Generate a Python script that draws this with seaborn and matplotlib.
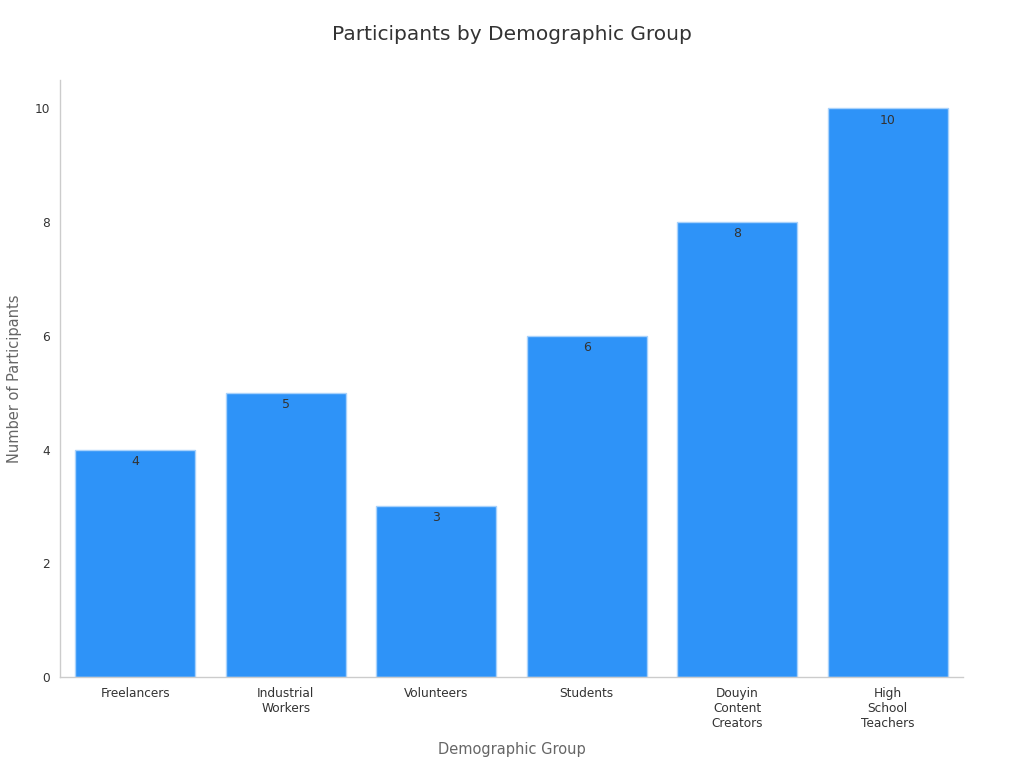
import pandas as pd
import matplotlib
matplotlib.use("Agg")
import matplotlib.pyplot as plt
import seaborn as sns

# data
groups = ["Freelancers", "Industrial\nWorkers", "Volunteers", "Students",
          "Douyin\nContent\nCreators", "High\nSchool\nTeachers"]
participants = [4, 5, 3, 6, 8, 10]

df = pd.DataFrame({"Group": groups, "Participants": participants})

sns.set_style("white")
plt.rcParams["font.family"] = ["DejaVu Sans"]

fig = plt.figure(figsize=(10.24, 7.68), dpi=100)
ax = fig.add_axes([0.0586, 0.1185, 0.8818, 0.7773])

sns.barplot(data=df, x="Group", y="Participants", color="#2E93F8",
            saturation=1, width=0.8, edgecolor="#A9D2FB", linewidth=1, ax=ax)

for c in ax.containers:
    ax.bar_label(c, padding=-13, fontsize=9, color="#333333")

ax.set_xlim(-0.5, 5.5)
ax.set_ylim(0, 10.5)
ax.set_yticks([0, 2, 4, 6, 8, 10])

for s in ["top", "right"]:
    ax.spines[s].set_visible(False)
for s in ["left", "bottom"]:
    ax.spines[s].set_color("#cccccc")
    ax.spines[s].set_linewidth(1)

ax.tick_params(axis="both", length=4, width=1, color="#666666",
               labelsize=8.7, labelcolor="#333333", pad=3)
ax.set_xlabel("Demographic Group", fontsize=10.5, color="#666666", labelpad=9)
ax.set_ylabel("Number of Participants", fontsize=10.5, color="#666666", labelpad=9)

fig.suptitle("Participants by Demographic Group", fontsize=14.5, color="#333333", y=0.968)

plt.savefig("out.png", dpi=100)
plt.close()
